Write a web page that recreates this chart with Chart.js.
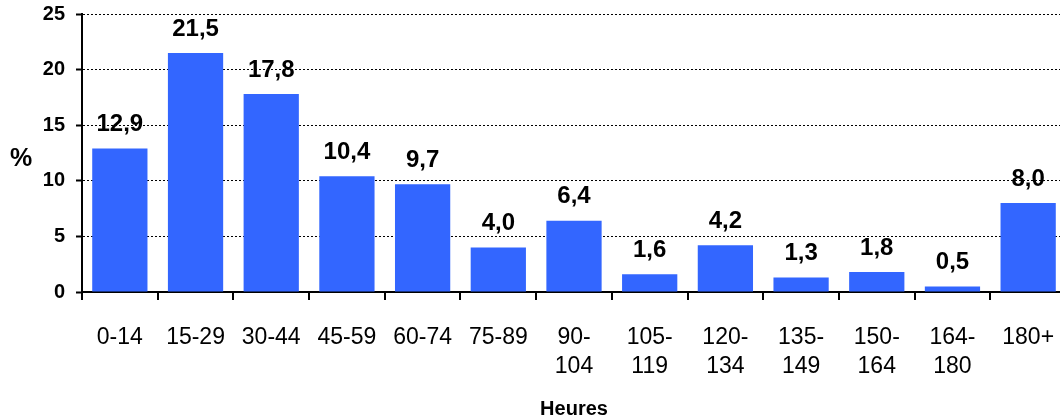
<!DOCTYPE html>
<html>
<head>
<meta charset="utf-8">
<script src="https://cdn.jsdelivr.net/npm/chart.js@4"></script>
<style>
  html,body{margin:0;padding:0;overflow:hidden;background:#fff}
  #wrap{position:relative;width:1066px;height:419px}
</style>
</head>
<body>
<div id="wrap"><canvas id="chart"></canvas></div>
<script>
// données
const categories = [['0-14'],['15-29'],['30-44'],['45-59'],['60-74'],['75-89'],
  ['90-','104'],['105-','119'],['120-','134'],['135-','149'],['150-','164'],['164-','180'],['180+']];
const values = [12.9, 21.5, 17.8, 10.4, 9.7, 4.0, 6.4, 1.6, 4.2, 1.3, 1.8, 0.5, 8.0];
const yTicks = [0, 5, 10, 15, 20, 25];
const FONT = "Arial, 'Liberation Sans', sans-serif";

const fmt = v => v.toFixed(1).replace('.', ',');

// valeurs au-dessus des barres
const barLabels = {
  id: 'barLabels',
  afterDatasetsDraw(chart){
    const ctx = chart.ctx;
    const meta = chart.getDatasetMeta(0);
    ctx.save();
    ctx.font = `bold 24px ${FONT}`;
    ctx.fillStyle = '#000';
    ctx.textAlign = 'center';
    ctx.textBaseline = 'middle';
    meta.data.forEach((bar, i) => {
      ctx.fillText(fmt(values[i]), bar.x, bar.y - 24);
    });
    ctx.restore();
  }
};

// titre "%" horizontal à gauche
const yTitle = {
  id: 'yTitle',
  afterDraw(chart){
    const ctx = chart.ctx, a = chart.chartArea;
    ctx.save();
    ctx.font = `bold 25px ${FONT}`;
    ctx.fillStyle = '#000';
    ctx.textAlign = 'center';
    ctx.textBaseline = 'middle';
    ctx.fillText('%', 21, (a.top + a.bottom) / 2 + 6);
    ctx.restore();
  }
};

new Chart(document.getElementById('chart'), {
  type: 'bar',
  data: {
    labels: categories,
    datasets: [{
      data: values,
      backgroundColor: '#3366FF',
      borderWidth: 0,
      barPercentage: 0.73,
      categoryPercentage: 1.0
    }]
  },
  options: {
    responsive: true,
    maintainAspectRatio: false,
    animation: false,
    layout: {padding: {top: 14, left: 0, right: 0, bottom: 0}},
    plugins: {legend: {display: false}, tooltip: {enabled: false}},
    scales: {
      x: {
        offset: true,
        grid: {offset: true, drawOnChartArea: false, drawTicks: true, tickLength: 8,
               color: '#000', lineWidth: 2},
        border: {display: true, color: '#000', width: 2},
        ticks: {color: '#000', font: {family: FONT, size: 23, lineHeight: 1.26},
                padding: 23, maxRotation: 0, autoSkip: false},
        title: {display: true, text: 'Heures', color: '#000',
                font: {family: FONT, size: 20, weight: 'bold'}, padding: {top: 0, bottom: -2}},
        afterFit: s => { s.height = 127; s.paddingLeft = 0; s.paddingRight = 0; }
      },
      y: {
        min: 0, max: 25,
        afterBuildTicks: s => { s.ticks = yTicks.map(v => ({value: v})); },
        grid: {color: '#000', lineWidth: 1, tickLength: 6, tickBorderDash: [], tickWidth: 2},
        border: {display: true, color: '#000', width: 2, dash: [2, 2]},
        ticks: {color: '#000', font: {family: FONT, size: 20, weight: 'bold'}, padding: 11},
        afterFit: s => { s.width = 82; s.paddingTop = 0; s.paddingBottom = 0; }
      }
    }
  },
  plugins: [barLabels, yTitle]
});
</script>
</body>
</html>
